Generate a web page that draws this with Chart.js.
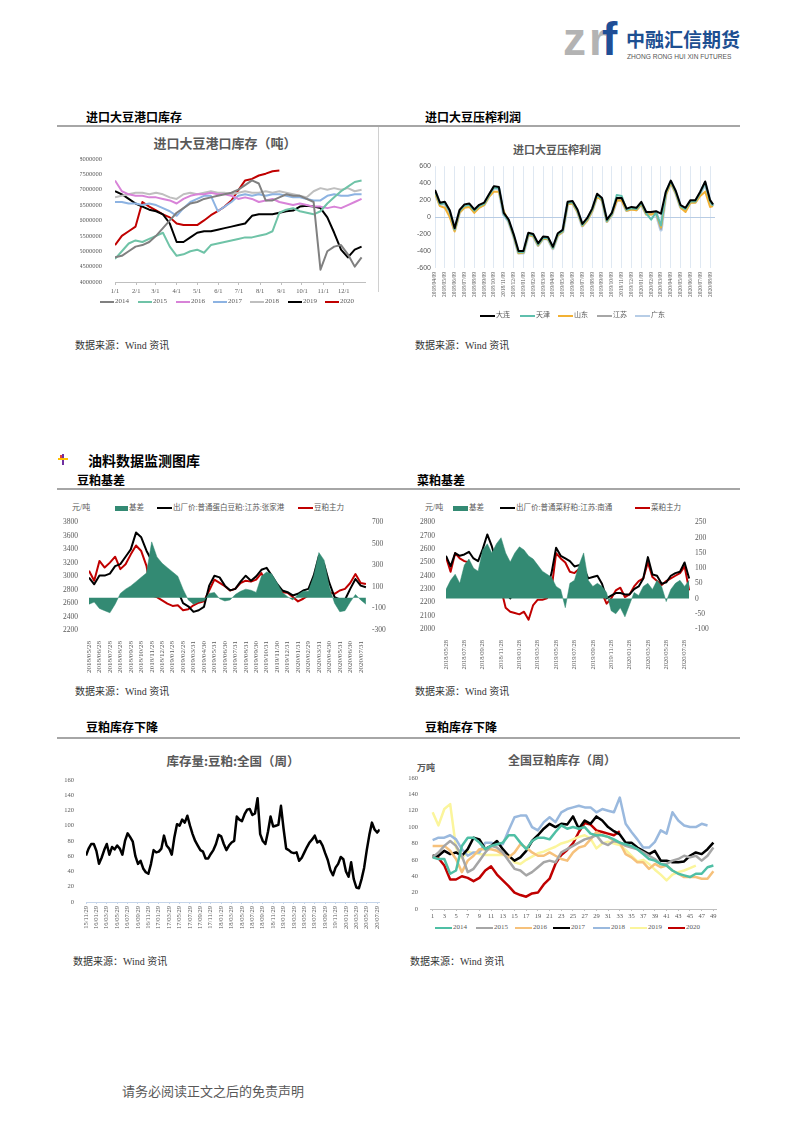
<!DOCTYPE html>
<html>
<head>
<meta charset="utf-8">
<script src="https://cdn.jsdelivr.net/npm/chart.js@4.4.0/dist/chart.umd.min.js"></script>
<style>
body { margin: 0; background: #fff; }
#page { position: relative; width: 793px; height: 1122px; overflow: hidden; font-family: "Noto Sans CJK SC", sans-serif; }
.t { position: absolute; white-space: nowrap; line-height: 1; }
.b { font-weight: bold; }
.ctr { transform: translateX(-50%); }
.serif { font-family: "Liberation Serif", "Noto Sans CJK SC", serif; }
.rule { position: absolute; height: 2px; background: #a6a6a6; }
.box { position: absolute; }
canvas { position: absolute; }
</style>
</head>
<body>
<div id="page"></div>
<script>
// ---- chart 1: 进口大豆港口库存 (10-day grid, day of year) ----
const days1 = [0,10,20,30,40,50,60,70,80,90,100,110,120,130,140,150,160,170,180,190,200,210,220,230,240,250,260,270,280,290,300,310,320,330,340,350,360];
const monthStart1 = [0,31,59,90,120,151,181,212,243,273,304,334];
const monthLabels1 = ['1/1','2/1','3/1','4/1','5/1','6/1','7/1','8/1','9/1','10/1','11/1','12/1'];
const years1 = ['2014','2015','2016','2017','2018','2019','2020'];
const stock2014 = [4.80e6,4.85e6,5.00e6,5.15e6,5.20e6,5.30e6,5.50e6,5.75e6,6.00e6,6.25e6,6.40e6,6.55e6,6.60e6,6.70e6,6.75e6,6.80e6,6.85e6,6.90e6,7.00e6,7.15e6,7.30e6,7.20e6,6.65e6,6.65e6,6.75e6,6.85e6,6.80e6,6.80e6,6.70e6,6.60e6,4.40e6,5.00e6,5.15e6,5.20e6,4.90e6,4.50e6,4.80e6];
const stock2015 = [4.75e6,5.00e6,5.25e6,5.35e6,5.30e6,5.40e6,5.50e6,5.60e6,5.15e6,4.85e6,4.90e6,5.00e6,5.05e6,4.95e6,5.20e6,5.25e6,5.30e6,5.35e6,5.40e6,5.45e6,5.45e6,5.50e6,5.55e6,5.65e6,6.25e6,6.35e6,6.40e6,6.30e6,6.25e6,6.20e6,6.30e6,6.55e6,6.75e6,6.95e6,7.10e6,7.25e6,7.30e6];
const stock2016 = [7.30e6,6.95e6,6.85e6,6.80e6,6.80e6,6.75e6,6.75e6,6.70e6,6.65e6,6.55e6,6.70e6,6.80e6,6.85e6,6.85e6,6.90e6,6.85e6,6.85e6,6.80e6,6.70e6,6.75e6,6.70e6,6.60e6,6.65e6,6.70e6,6.60e6,6.55e6,6.50e6,6.55e6,6.50e6,6.45e6,6.45e6,6.40e6,6.45e6,6.40e6,6.50e6,6.60e6,6.70e6];
const stock2017 = [6.60e6,6.60e6,6.55e6,6.55e6,6.50e6,6.55e6,6.50e6,6.40e6,6.30e6,6.15e6,6.40e6,6.60e6,6.70e6,6.80e6,6.80e6,6.30e6,6.45e6,6.60e6,6.80e6,6.85e6,6.80e6,6.85e6,6.80e6,6.85e6,6.85e6,6.80e6,6.75e6,6.75e6,6.70e6,6.65e6,6.65e6,6.80e6,6.85e6,6.80e6,6.80e6,6.85e6,6.85e6];
const stock2018 = [6.75e6,6.80e6,6.85e6,6.90e6,6.90e6,6.85e6,6.90e6,6.85e6,6.75e6,6.70e6,6.85e6,6.90e6,6.85e6,6.90e6,6.95e6,6.90e6,6.90e6,6.85e6,6.90e6,6.95e6,6.90e6,6.90e6,6.95e6,6.90e6,6.95e6,6.90e6,6.85e6,6.80e6,6.75e6,6.95e6,7.05e6,7.00e6,7.05e6,7.00e6,7.05e6,6.95e6,7.00e6];
const stock2019 = [6.95e6,6.85e6,6.70e6,6.55e6,6.45e6,6.35e6,6.30e6,6.20e6,5.90e6,5.30e6,5.30e6,5.45e6,5.60e6,5.65e6,5.65e6,5.70e6,5.75e6,5.80e6,5.85e6,5.90e6,6.15e6,6.20e6,6.20e6,6.20e6,6.25e6,6.30e6,6.32e6,6.45e6,6.48e6,6.45e6,6.40e6,6.10e6,5.60e6,5.05e6,4.80e6,5.05e6,5.15e6];
const stock2020 = [5.20e6,5.50e6,5.65e6,5.80e6,6.60e6,6.45e6,6.33e6,6.20e6,6.10e6,5.90e6,5.85e6,5.85e6,5.85e6,6.00e6,6.17e6,6.30e6,6.45e6,6.65e6,6.98e6,7.30e6,7.35e6,7.46e6,7.52e6,7.60e6,7.62e6,null,null,null,null,null,null,null,null,null,null,null,null];

// ---- chart 2: 进口大豆压榨利润 (half-month grid) ----
const months2 = [0,0.5,1,1.5,2,2.5,3,3.5,4,4.5,5,5.5,6,6.5,7,7.5,8,8.5,9,9.5,10,10.5,11,11.5,12,12.5,13,13.5,14,14.5,15,15.5,16,16.5,17,17.5,18,18.5,19,19.5,20,20.5,21,21.5,22,22.5,23,23.5,24,24.5,25,25.5,26,26.5,27,27.5,28,28.3];
const dateLabels2 = ['2018/04/09','2018/05/09','2018/06/09','2018/07/09','2018/08/09','2018/09/09','2018/10/09','2018/11/09','2018/12/09','2019/01/09','2019/02/09','2019/03/09','2019/04/09','2019/05/09','2019/06/09','2019/07/09','2019/08/09','2019/09/09','2019/10/09','2019/11/09','2019/12/09','2020/01/09','2020/02/09','2020/03/09','2020/04/09','2020/05/09','2020/06/09','2020/07/09','2020/08/09'];
const profitDalian = [320,170,180,80,-130,85,150,160,90,145,170,270,365,355,50,-30,-200,-400,-400,-185,-200,-310,-230,-235,-350,-190,-150,180,190,90,-80,-10,100,275,225,-30,50,225,225,100,120,110,180,60,60,70,40,300,430,310,140,110,200,200,300,420,200,150];
const profitTianjin = [305,155,165,65,-145,70,135,145,75,130,155,255,350,340,35,-45,-215,-415,-415,-200,-215,-325,-245,-250,-365,-205,-165,165,175,75,-95,-25,85,260,210,-45,35,260,250,85,105,95,165,45,-30,55,-100,285,420,295,125,95,185,185,285,405,185,135];
const profitShandong = [280,130,110,0,-170,50,110,120,50,110,140,240,300,300,70,-50,-225,-425,-420,-210,-225,-335,-255,-260,-370,-215,-175,150,160,60,-105,-40,70,245,195,-55,25,195,195,75,90,80,150,30,30,45,-120,260,400,280,110,60,170,170,250,300,120,130];
const profitJiangsu = [305,150,165,60,-150,70,135,145,75,130,155,255,350,340,35,-45,-215,-415,-415,-200,-215,-325,-245,-250,-365,-205,-165,165,175,75,-95,-25,85,260,210,-45,35,210,210,85,105,95,165,45,45,55,-140,285,420,295,125,95,185,185,285,405,185,135];
const profitGuangdong = [300,150,160,60,-150,65,130,140,70,125,150,250,345,335,30,-50,-220,-420,-420,-205,-220,-330,-250,-255,-370,-210,-170,160,170,70,-100,-30,80,255,205,-50,30,205,205,80,100,90,160,40,40,50,-150,280,415,290,120,90,180,180,280,400,180,130];

// ---- charts 3 & 4: 基差 (half-month grid from 2018/05/28) ----
const months34 = [0,0.5,1,1.5,2,2.5,3,3.5,4,4.5,5,5.5,6,6.5,7,7.5,8,8.5,9,9.5,10,10.5,11,11.5,12,12.5,13,13.5,14,14.5,15,15.5,16,16.5,17,17.5,18,18.5,19,19.5,20,20.5,21,21.5,22,22.5,23,23.5,24,24.5,25,25.5,26,26.5];
const dateLabels3 = ['2018/05/28','2018/06/28','2018/07/28','2018/08/28','2018/09/28','2018/10/28','2018/11/28','2018/12/28','2019/01/28','2019/02/28','2019/03/31','2019/04/30','2019/05/31','2019/06/30','2019/07/31','2019/08/31','2019/09/30','2019/10/31','2019/11/30','2019/12/31','2020/01/31','2020/02/29','2020/03/31','2020/04/30','2020/05/31','2020/06/30','2020/07/31'];
const mealSpot = [2980,2880,3010,3010,3040,3150,3180,3290,3400,3650,3580,3380,3230,3010,2910,2860,2800,2785,2600,2553,2470,2494,2543,2860,3008,2983,2860,2790,2812,2920,3008,2934,2998,3096,3125,3008,2885,2788,2763,2714,2739,2788,2812,3008,3301,3179,2900,2690,2656,2651,2812,2959,2860,2837];
const mealFut = [3081,2934,3228,3130,3203,3291,3106,3179,3326,3458,3375,3155,2714,2690,2641,2592,2558,2568,2494,2509,2568,2607,2626,2788,2949,2900,2851,2788,2812,2900,2934,2920,2949,3047,2885,2788,2763,2763,2753,2690,2626,2665,2714,2837,2934,2802,2763,2739,2788,2812,2900,3032,2900,2885];
const mealBasis = [-60,-40,-100,-120,-140,-60,40,80,110,150,190,230,520,380,320,280,240,200,80,-20,-60,-40,-30,40,50,-10,-30,-20,30,60,80,70,50,200,240,220,140,50,10,-20,30,60,60,200,420,350,100,-50,-130,-120,-40,30,-20,-60];

const dateLabels4 = ['2018/05/28','2018/07/28','2018/09/28','2018/11/28','2019/01/28','2019/03/28','2019/05/28','2019/07/28','2019/09/28','2019/11/28','2020/01/28','2020/03/28','2020/05/28','2020/07/28'];
const rapeSpot = [2550,2470,2570,2550,2560,2580,2530,2510,2600,2710,2620,2500,2420,2270,2230,2280,2300,2290,2290,2320,2290,2290,2300,2420,2610,2550,2530,2510,2470,2480,2460,2380,2390,2400,2340,2230,2250,2270,2270,2260,2260,2300,2320,2380,2540,2410,2400,2340,2350,2400,2420,2430,2500,2380];
const rapeFut = [2540,2430,2570,2530,2510,2500,2440,2350,2520,2600,2500,2360,2300,2160,2130,2120,2110,2130,2070,2180,2220,2220,2230,2300,2570,2530,2500,2430,2420,2450,2370,2300,2310,2310,2270,2190,2230,2290,2310,2240,2260,2320,2360,2380,2500,2390,2360,2330,2360,2380,2400,2420,2470,2290];
const rapeBasis = [30,60,80,50,110,130,100,90,160,180,150,180,200,150,120,150,170,160,140,130,110,90,80,70,40,30,-30,50,60,110,150,60,40,50,40,20,-40,-50,-30,-60,-20,20,10,40,50,30,60,40,-10,30,50,60,40,60];

// ---- chart 5: 库存量:豆粕:全国 (half-month grid from 15/11/29) ----
const months5 = [0,0.5,1,1.5,2,2.5,3,3.5,4,4.5,5,5.5,6,6.5,7,7.5,8,8.5,9,9.5,10,10.5,11,11.5,12,12.5,13,13.5,14,14.5,15,15.5,16,16.5,17,17.5,18,18.5,19,19.5,20,20.5,21,21.5,22,22.5,23,23.5,24,24.5,25,25.5,26,26.5,27,27.5,28,28.5,29,29.5,30,30.5,31,31.5,32,32.5,33,33.5,34,34.5,35,35.5,36,36.5,37,37.5,38,38.5,39,39.5,40,40.5,41,41.5,42,42.5,43,43.5,44,44.5,45,45.5,46,46.5,47,47.5,48,48.5,49,49.5,50,50.5,51,51.5,52,52.5,53,53.5,54,54.5,55,55.5,56,56.5];
const dateLabels5 = ['15/11/29','16/01/29','16/03/29','16/05/29','16/07/29','16/09/29','16/11/29','17/01/29','17/03/29','17/05/29','17/07/29','17/09/29','17/11/29','18/01/29','18/03/29','18/05/29','18/07/29','18/09/29','18/11/29','19/01/29','19/03/29','19/05/29','19/07/29','19/09/29','19/11/29','20/01/29','20/03/29','20/05/29','20/07/29'];
const mealStock = [61,70,76,76,67,50,58,68,76,62, 72,69,74,70,62,80,90,85,79,60, 50,54,44,39,37,50,68,65,66,70, 87,74,70,62,85,102,100,108,104,113, 100,89,80,74,68,66,57,57,63,68, 76,88,86,76,68,74,78,80,112,108, 106,115,121,122,114,116,136,89,80,76, 92,112,99,100,101,126,96,70,68,65, 64,65,54,58,65,72,78,82,87,78, 80,74,64,55,42,35,45,50,59,56, 40,33,52,30,19,18,30,45,68,88, 104,95,91,95];

// ---- chart 6: 全国豆粕库存 (week of year) ----
const weeks6 = [1,2,3,4,5,6,7,8,9,10,11,12,13,14,15,16,17,18,19,20,21,22,23,24,25,26,27,28,29,30,31,32,33,34,35,36,37,38,39,40,41,42,43,44,45,46,47,48,49];
const weekTicks6 = [1,3,5,7,9,11,13,15,17,19,21,23,25,27,29,31,33,35,37,39,41,43,45,47,49];
const years6 = ['2014','2015','2016','2017','2018','2019','2020'];
const wk2014 = [63,61,61,43,47,77,87,87,81,73,77,79,81,90,90,81,73,83,87,87,85,94,102,98,100,98,100,92,90,90,88,85,81,79,77,73,67,61,59,55,53,47,43,41,39,43,43,51,53];
const wk2015 = [63,69,77,83,77,65,45,49,59,69,77,75,69,59,49,47,41,45,51,57,59,57,69,73,77,81,85,87,90,81,78,83,81,77,75,73,69,65,61,55,55,59,61,65,63,65,59,65,75];
const wk2016 = [77,77,77,71,61,45,59,65,73,73,73,71,67,63,69,79,75,69,65,65,69,65,61,59,69,75,77,85,94,90,88,83,81,67,63,57,57,49,55,51,53,47,43,39,39,39,37,37,46];
const wk2017 = [65,65,71,67,69,65,73,87,85,73,77,83,73,65,59,63,71,83,90,98,104,100,104,103,113,98,108,104,113,108,100,95,91,81,81,75,71,67,71,59,59,57,57,58,65,69,67,73,81];
const wk2018 = [84,87,87,90,85,73,65,69,69,81,81,79,79,96,112,114,114,100,96,106,112,106,118,122,124,126,124,124,118,122,120,118,136,104,94,85,75,75,82,96,92,118,108,102,100,100,104,102,null];
const wk2019 = [118,102,122,128,75,62,70,68,67,66,66,66,66,66,57,55,60,64,68,70,73,76,80,82,85,88,90,86,74,80,82,80,78,72,65,58,60,55,48,42,35,42,45,47,50,53,null,null,null];
const wk2020 = [64,62,53,36,36,40,38,34,38,47,52,42,35,28,20,17,15,19,20,30,37,55,66,72,80,94,105,103,96,94,92,90,95,null,null,null,null,null,null,null,null,null,null,null,null,null,null,null,null];

// ---- helpers ----
const page = document.getElementById('page');
const SERIF = '"Liberation Serif", "Noto Sans CJK SC", serif';
const SANS = '"Liberation Sans", "Noto Sans CJK SC", sans-serif';
const GREY = '#595959';

Chart.defaults.animation = false;
Chart.defaults.responsive = false;
Chart.defaults.maintainAspectRatio = false;
Chart.defaults.devicePixelRatio = 1;
Chart.defaults.plugins.legend.display = false;
Chart.defaults.plugins.tooltip.enabled = false;
Chart.defaults.elements.point.radius = 0;
Chart.defaults.elements.line.tension = 0;
Chart.defaults.elements.line.borderJoinStyle = 'round';

const plain = v => String(v);
function pairs(xs, ys) { return xs.map((x, i) => ({ x: x, y: ys[i] })); }

function txt(s, left, top, size, cls, color) {
  const d = document.createElement('div');
  d.className = 't ' + (cls || '');
  d.textContent = s;
  d.style.left = left + 'px';
  d.style.top = top + 'px';
  d.style.fontSize = size + 'px';
  if (color) d.style.color = color;
  page.appendChild(d);
  return d;
}
function box(left, top, w, h, color) {
  const d = document.createElement('div');
  d.className = 'box';
  d.style.left = left + 'px'; d.style.top = top + 'px';
  d.style.width = w + 'px'; d.style.height = h + 'px';
  d.style.background = color;
  page.appendChild(d);
}
function rule(top) {
  const d = document.createElement('div');
  d.className = 'rule';
  d.style.left = '57px'; d.style.top = top + 'px'; d.style.width = '683px';
  page.appendChild(d);
}
function legendItem(x, yc, w, h, color, label, size) {
  box(x, yc - h / 2, w, h, color);
  txt(label, x + w + 1, yc - size * 0.55, size, 'serif', GREY);
}
function canvasAt(left, top, w, h) {
  const c = document.createElement('canvas');
  c.width = w; c.height = h;
  c.style.left = left + 'px'; c.style.top = top + 'px';
  c.style.width = w + 'px'; c.style.height = h + 'px';
  page.appendChild(c);
  return c.getContext('2d');
}
function fixTicks(values) { return s => { s.ticks = values.map(v => ({ value: v })); }; }
function integerTicks(n) { const a = []; for (let i = 0; i < n; i++) a.push(i); return a; }

// ---- page text ----
txt('z', 563, 16, 46, 'b', '#b3b3b3').style.fontFamily = SANS;
txt('r', 589, 16, 46, 'b', '#b3b3b3').style.fontFamily = SANS;
txt('f', 602, 16, 46, 'b', '#1f4e96').style.fontFamily = SANS;
txt('中融汇信期货', 626, 28.5, 19, 'b', '#1d4f91');
txt('ZHONG RONG HUI XIN FUTURES', 627, 54, 6.6, '', '#555').style.fontFamily = SANS;

txt('进口大豆港口库存', 86, 111, 12, 'b', '#000');
txt('进口大豆压榨利润', 425, 111, 12, 'b', '#000');
rule(125);
box(378, 127, 1, 165, '#d0d0d0');

txt('数据来源：Wind 资讯', 75, 341, 10, 'serif', '#333');
txt('数据来源：Wind 资讯', 415, 341, 10, 'serif', '#333');

// section icon + heading
box(62, 454, 2, 11, '#7030a0');
box(58, 458, 10, 2, '#ffc000');
box(60, 455, 2, 3, '#e04040');
txt('油料数据监测图库', 88, 453, 14, 'b', '#000');
txt('豆粕基差', 77, 474, 12, 'b', '#000');
txt('菜粕基差', 417, 474, 12, 'b', '#000');
rule(488);

txt('数据来源：Wind 资讯', 75, 687, 10, 'serif', '#333');
txt('数据来源：Wind 资讯', 415, 687, 10, 'serif', '#333');

txt('豆粕库存下降', 86, 721, 12, 'b', '#000');
txt('豆粕库存下降', 425, 721, 12, 'b', '#000');
rule(737);

txt('数据来源：Wind 资讯', 73, 957, 10, 'serif', '#333');
txt('数据来源：Wind 资讯', 410, 957, 10, 'serif', '#333');

txt('请务必阅读正文之后的免责声明', 122, 1083.5, 13, '', GREY);

// ---- chart 1 ----
const colors1 = ['#808080', '#6fc3a7', '#d883d8', '#8db3e2', '#bfbfbf', '#000000', '#c00000'];
const series1 = [stock2014, stock2015, stock2016, stock2017, stock2018, stock2019, stock2020];
txt('进口大豆港口库存（吨）', 225, 135.5, 13, 'b ctr', GREY);
new Chart(canvasAt(80, 150, 298, 150), {
  type: 'line',
  data: { datasets: series1.map((s, k) => ({ label: years1[k], data: pairs(days1, s), borderColor: colors1[k], borderWidth: 2 })) },
  options: {
    layout: { padding: { top: 8, right: 13, left: 0, bottom: 0 } },
    scales: {
      x: {
        type: 'linear', min: 0, max: 365,
        afterBuildTicks: fixTicks(monthStart1),
        afterFit: s => { s.height = 18; },
        ticks: { callback: (v, i) => monthLabels1[i], font: { family: SERIF, size: 6.5 }, color: GREY, padding: 2, maxRotation: 0, autoSkip: false },
        grid: { drawOnChartArea: false, drawTicks: true, tickLength: 3, color: '#bfbfbf' },
        border: { color: '#bfbfbf' }
      },
      y: {
        min: 4e6, max: 8e6,
        ticks: { stepSize: 5e5, callback: plain, font: { family: SERIF, size: 6.5 }, color: GREY, padding: 5 },
        grid: { display: false }, border: { display: false },
        afterFit: s => { s.width = 35; }
      }
    }
  }
});
[100, 138, 176, 213, 250, 288, 325].forEach((x, k) => legendItem(x, 302, 14, 2, colors1[k], years1[k], 7));

// ---- chart 2 ----
const names2 = ['大连', '天津', '山东', '江苏', '广东'];
const colors2 = ['#000000', '#5fbfad', '#f2b134', '#a6a6a6', '#b7cde6'];
const widths2 = [2, 2, 2, 2, 3.5];
const series2 = [profitDalian, profitTianjin, profitShandong, profitJiangsu, profitGuangdong];
txt('进口大豆压榨利润', 557, 143.5, 11, 'b ctr', GREY);
new Chart(canvasAt(405, 158, 320, 150), {
  type: 'line',
  data: { datasets: series2.map((s, k) => ({ label: names2[k], data: pairs(months2, s), borderColor: colors2[k], borderWidth: widths2[k] })) },
  options: {
    layout: { padding: { top: 7, right: 10, left: 0, bottom: 0 } },
    scales: {
      x: {
        type: 'linear', min: 0, max: 28.5,
        afterBuildTicks: fixTicks(integerTicks(dateLabels2.length)),
        afterFit: s => { s.height = 40; },
        ticks: { callback: (v, i) => dateLabels2[i], font: { family: SERIF, size: 5.5 }, color: GREY, padding: 4, minRotation: 90, maxRotation: 90, autoSkip: false },
        grid: { drawOnChartArea: true, drawTicks: false, color: '#dfe8f2' },
        border: { display: false }
      },
      y: {
        min: -600, max: 600,
        ticks: { stepSize: 200, callback: plain, font: { family: SANS, size: 7 }, color: GREY, padding: 4 },
        grid: { drawTicks: false, color: c => (c.tick && c.tick.value === 0 ? '#b8cce4' : 'rgba(0,0,0,0)') },
        border: { display: false },
        afterFit: s => { s.width = 30; }
      }
    }
  }
});
[480, 520, 558, 597, 635].forEach((x, k) => legendItem(x, 316, 15, 2, colors2[k], names2[k], 7));

// ---- charts 3 & 4 (basis) ----
const TEAL = '#338a73';
function basisChart(ctx, cfg) {
  return new Chart(ctx, {
    type: 'line',
    data: {
      datasets: [
        { label: '基差', data: pairs(months34, cfg.basis), yAxisID: 'y1', fill: 'origin', backgroundColor: TEAL, borderColor: TEAL, borderWidth: 0.5 },
        { label: cfg.spotName, data: pairs(months34, cfg.spot), yAxisID: 'y', borderColor: '#000000', borderWidth: 2 },
        { label: cfg.futName, data: pairs(months34, cfg.fut), yAxisID: 'y', borderColor: '#c00000', borderWidth: 2 }
      ]
    },
    options: {
      layout: { padding: { top: 7, right: 0, left: 0, bottom: 0 } },
      scales: {
        x: {
          type: 'linear', min: 0, max: 26.7,
          afterBuildTicks: fixTicks(cfg.tickPos),
          afterFit: s => { s.height = cfg.xh; },
          ticks: { callback: (v, i) => cfg.labels[i], font: { family: SERIF, size: cfg.xfs }, color: GREY, padding: 3, minRotation: 90, maxRotation: 90, autoSkip: false },
          grid: { display: false }, border: { display: false }
        },
        y: {
          position: 'left', min: cfg.ymin, max: cfg.ymax,
          ticks: { stepSize: cfg.ystep, callback: plain, font: { family: SERIF, size: 7.5 }, color: GREY, padding: 3 },
          grid: { display: false }, border: { display: false },
          afterFit: s => { s.width = cfg.lw; }
        },
        y1: {
          position: 'right', min: cfg.rmin, max: cfg.rmax,
          ticks: { stepSize: cfg.rstep, callback: plain, font: { family: SERIF, size: 7.5 }, color: GREY, padding: 4 },
          grid: { display: false, drawTicks: false }, border: { display: false },
          afterFit: s => { s.width = cfg.rw; }
        }
      }
    }
  });
}
basisChart(canvasAt(62, 514, 325, 160), {
  basis: mealBasis, spot: mealSpot, fut: mealFut,
  spotName: '出厂价:普通蛋白豆粕:江苏:张家港', futName: '豆粕主力',
  labels: dateLabels3, tickPos: integerTicks(dateLabels3.length), xh: 44, xfs: 7,
  ymin: 2200, ymax: 3800, ystep: 200, rmin: -300, rmax: 700, rstep: 100, lw: 27, rw: 19
});
txt('元/吨', 72, 504, 8, 'serif', GREY);
legendItem(115, 508, 13, 5, TEAL, '基差', 7.5);
legendItem(157, 508, 15, 2, '#000000', '出厂价:普通蛋白豆粕:江苏:张家港', 7.5);
legendItem(298, 508, 15, 2, '#c00000', '豆粕主力', 7.5);

basisChart(canvasAt(405, 514, 310, 160), {
  basis: rapeBasis, spot: rapeSpot, fut: rapeFut,
  spotName: '出厂价:普通菜籽粕:江苏:南通', futName: '菜粕主力',
  labels: dateLabels4, tickPos: [0,2,4,6,8,10,12,14,16,18,20,22,24,26], xh: 45, xfs: 6.5,
  ymin: 2000, ymax: 2800, ystep: 100, rmin: -100, rmax: 250, rstep: 50, lw: 41, rw: 24
});
txt('元/吨', 425, 504, 8, 'serif', GREY);
legendItem(453, 508, 15, 5, TEAL, '基差', 7.5);
legendItem(500, 508, 15, 2, '#000000', '出厂价:普通菜籽粕:江苏:南通', 7.5);
legendItem(635, 508, 15, 2, '#c00000', '菜粕主力', 7.5);

// ---- chart 5 ----
txt('库存量:豆粕:全国（周）', 233, 755, 12.5, 'b ctr', GREY);
new Chart(canvasAt(62, 772, 325, 170), {
  type: 'line',
  data: { datasets: [{ label: '库存量:豆粕:全国', data: pairs(months5, mealStock), borderColor: '#000000', borderWidth: 2.5 }] },
  options: {
    layout: { padding: { top: 6, right: 5, left: 0, bottom: 0 } },
    scales: {
      x: {
        type: 'linear', min: 0, max: 56.5,
        afterBuildTicks: fixTicks([0,2,4,6,8,10,12,14,16,18,20,22,24,26,28,30,32,34,36,38,40,42,44,46,48,50,52,54,56]),
        afterFit: s => { s.height = 40; },
        ticks: { callback: (v, i) => dateLabels5[i], font: { family: SERIF, size: 6.5 }, color: GREY, padding: 2, minRotation: 90, maxRotation: 90, autoSkip: false },
        grid: { drawOnChartArea: false, drawTicks: true, tickLength: 2, color: '#c5d5ea' },
        border: { color: '#c5d5ea' }
      },
      y: {
        min: 0, max: 160,
        ticks: { stepSize: 20, callback: plain, font: { family: SERIF, size: 6.5 }, color: GREY, padding: 4 },
        grid: { display: false }, border: { display: false },
        afterFit: s => { s.width = 24; }
      }
    }
  }
});

// ---- chart 6 ----
const colors6 = ['#4fbfa5', '#a6a6a6', '#f6c17b', '#000000', '#9ab9de', '#fbf59c', '#c00000'];
const series6 = [wk2014, wk2015, wk2016, wk2017, wk2018, wk2019, wk2020];
txt('全国豆粕库存（周）', 562, 754, 12, 'b ctr', GREY);
txt('万吨', 417, 762.5, 9, 'b', GREY);
new Chart(canvasAt(400, 770, 325, 150), {
  type: 'line',
  data: { datasets: series6.map((s, k) => ({ label: years6[k], data: pairs(weeks6, s), borderColor: colors6[k], borderWidth: 2.5 })) },
  options: {
    layout: { padding: { top: 7, right: 9, left: 0, bottom: 0 } },
    scales: {
      x: {
        type: 'linear', min: 0.55, max: 49.45,
        afterBuildTicks: fixTicks(weekTicks6),
        afterFit: s => { s.height = 11; },
        ticks: { callback: plain, font: { family: SERIF, size: 6.5 }, color: GREY, padding: 1, maxRotation: 0, autoSkip: false },
        grid: { drawOnChartArea: false, drawTicks: true, tickLength: 2, color: '#bfbfbf' },
        border: { color: '#bfbfbf' }
      },
      y: {
        min: 0, max: 160,
        ticks: { stepSize: 20, callback: plain, font: { family: SERIF, size: 6.5 }, color: GREY, padding: 4 },
        grid: { display: false }, border: { display: false },
        afterFit: s => { s.width = 30; }
      }
    }
  }
});
[435, 476, 515, 553, 593, 630, 668].forEach((x, k) => legendItem(x, 928, 17, 2.5, colors6[k], years6[k], 7));
</script>
</body>
</html>
